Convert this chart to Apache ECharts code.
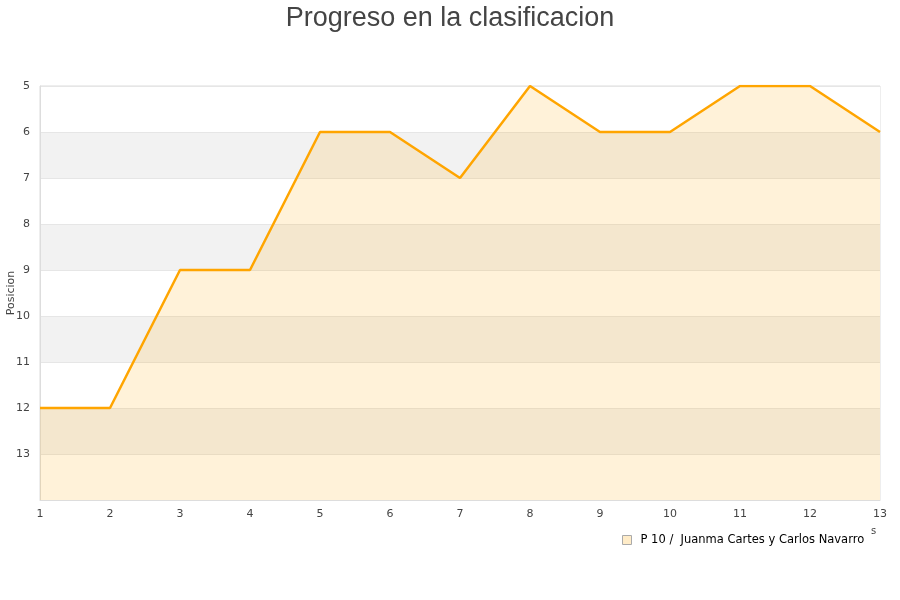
<!DOCTYPE html>
<html>
<head>
<meta charset="utf-8">
<script src="https://cdn.jsdelivr.net/npm/echarts@6/dist/echarts.min.js"></script>
<style>html,body{margin:0;padding:0;background:#fff}#c{width:900px;height:600px}</style>
</head>
<body>
<div id="c"></div>
<script>
var jornadas = ['1','2','3','4','5','6','7','8','9','10','11','12','13'];
var posiciones = [12, 12, 9, 9, 6, 6, 7, 5, 6, 6, 5, 5, 6];
var serieNombre = 'P 10 /  Juanma Cartes y Carlos Navarro';
var titulo = 'Progreso en la clasificacion';
var ejeY = 'Posicion';

var chart = echarts.init(document.getElementById('c'), null, {renderer: 'canvas'});
chart.setOption({
  animation: false,
  title: {
    text: titulo, left: 'center', top: 0,
    textStyle: {fontFamily: 'Liberation Sans', fontSize: 27, fontWeight: 'normal', color: '#444'}
  },
  grid: {left: 40, right: 20, top: 86, bottom: 100, outerBoundsMode: 'none', containLabel: false,
    show: true, borderColor: '#ddd', borderWidth: 1, backgroundColor: 'transparent'},
  legend: {
    data: [{name: serieNombre, icon: 'rect', itemStyle: {color: '#ffecc8', borderColor: '#aaa', borderWidth: 1}}],
    left: 617, top: 529, itemWidth: 9, itemHeight: 9, itemGap: 5,
    textStyle: {fontFamily: 'DejaVu Sans', fontSize: 11.5, color: '#000', padding: [0, 0, 0, 4]}
  },
  xAxis: {
    type: 'category', data: jornadas, boundaryGap: false,
    axisLine: {show: true, lineStyle: {color: '#ddd'}},
    axisTick: {show: false},
    axisLabel: {fontFamily: 'DejaVu Sans', fontSize: 11, color: '#444', margin: 9},
    splitLine: {show: false}
  },
  yAxis: {
    type: 'value', inverse: true, min: 5, max: 14, interval: 1,
    axisLine: {show: true, lineStyle: {color: '#ddd'}},
    axisTick: {show: false},
    axisLabel: {fontFamily: 'DejaVu Sans', fontSize: 11, color: '#444', margin: 10,
      formatter: function (v) { return v === 14 ? '' : String(v); }},
    splitLine: {show: true, lineStyle: {color: '#e6e6e6'}},
    splitArea: {show: true, areaStyle: {color: ['#ffffff', '#f2f2f2']}}
  },
  graphic: [
    {type: 'text', x: 11, y: 293, rotation: Math.PI / 2,
      style: {text: ejeY, fontFamily: 'DejaVu Sans', fontSize: 11, fill: '#444', align: 'center', verticalAlign: 'middle'}},
    {type: 'text', left: 871, top: 526, style: {text: 's', fontFamily: 'DejaVu Sans', fontSize: 10, fill: '#444'}}
  ],
  series: [{
    name: serieNombre, type: 'line', data: posiciones,
    symbol: 'none',
    lineStyle: {color: '#ffa500', width: 2.5},
    itemStyle: {color: '#ffecc8'},
    areaStyle: {color: 'rgba(255,165,0,0.21)', origin: 'end'}
  }]
});
</script>
</body>
</html>
